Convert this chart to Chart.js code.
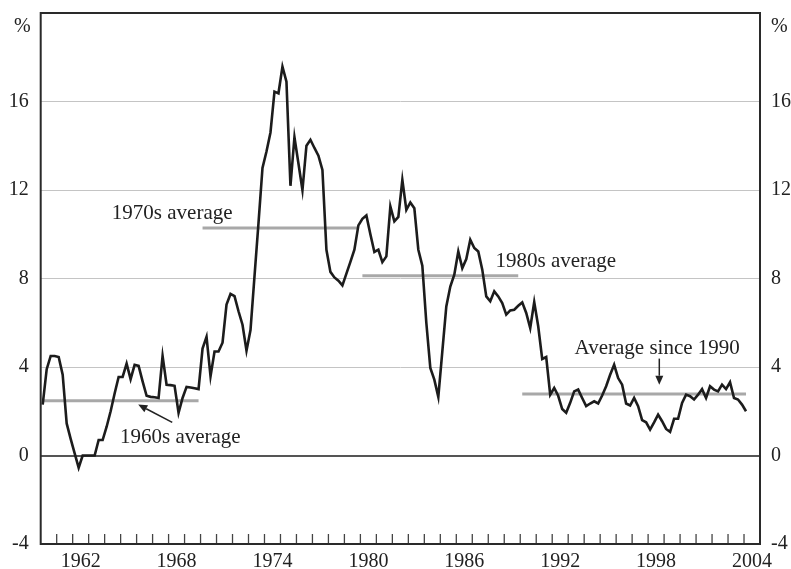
<!DOCTYPE html>
<html>
<head>
<meta charset="utf-8">
<script src="https://cdn.jsdelivr.net/npm/chart.js@4.4.1/dist/chart.umd.min.js"></script>
<style>
  html, body { margin: 0; padding: 0; background: #fff; overflow: hidden; }
  #wrap { width: 791px; height: 569px; position: relative; }
</style>
</head>
<body>
<div id="wrap"><canvas id="inflationChart"></canvas></div>
<script>
// quarterly year-ended inflation, Mar 1960 .. Mar 2004 (one row per year)
const firstQuarter = 1960.125;
const inflation = [
  2.3, 3.9, 4.5, 4.5,
  4.45, 3.65, 1.45, 0.75,
  0.1, -0.55, 0, 0,
  0, 0, 0.7, 0.7,
  1.3, 2.0, 2.8, 3.55,
  3.55, 4.15, 3.45, 4.1,
  4.05, 3.35, 2.7, 2.65,
  2.63, 2.6, 4.5, 3.2,
  3.18, 3.15, 1.93, 2.6,
  3.1, 3.07, 3.04, 3.0,
  4.83, 5.36, 3.58, 4.7,
  4.7, 5.1, 6.82, 7.3,
  7.2, 6.52, 5.91, 4.74,
  5.67, 8.1, 10.5, 13.0,
  13.74, 14.6, 16.45, 16.37,
  17.58, 16.9, 12.19, 14.39,
  13.2, 12.0, 14.0, 14.27,
  13.9, 13.55, 12.91, 9.3,
  8.3, 8.05, 7.9, 7.69,
  8.22, 8.75, 9.3, 10.4,
  10.7, 10.85, 10.0, 9.2,
  9.3, 8.74, 9.0, 11.26,
  10.58, 10.78, 12.46, 11.1,
  11.44, 11.18, 9.3, 8.58,
  6.0, 3.96, 3.43, 2.65,
  4.7, 6.74, 7.64, 8.17,
  9.22, 8.47, 8.88, 9.75,
  9.38, 9.22, 8.4, 7.19,
  6.97, 7.42, 7.19, 6.89,
  6.37, 6.56, 6.59, 6.77,
  6.92, 6.44, 5.76, 6.94,
  5.84, 4.36, 4.45, 2.75,
  3.05, 2.7, 2.1, 1.93,
  2.38, 2.9, 2.98, 2.6,
  2.23, 2.35, 2.45, 2.35,
  2.71, 3.13, 3.65, 4.1,
  3.5, 3.2, 2.35, 2.26,
  2.6, 2.23, 1.6, 1.5,
  1.17, 1.5, 1.85, 1.55,
  1.2, 1.07, 1.66, 1.66,
  2.38, 2.75, 2.68, 2.53,
  2.75, 3.0, 2.6, 3.13,
  2.98, 2.9, 3.2, 3.0,
  3.31, 2.6, 2.53, 2.3,
  2.0
];

const yearLabels = [1962, 1968, 1974, 1980, 1986, 1992, 1998, 2004];
const yTicks = [-4, 0, 4, 8, 12, 16];

const avgValues = [2.48, 10.28, 8.12, 2.78];
const avgStart = [1960.125, 1970.125, 1980.125, 1990.125];
const avgEnd = [1969.875, 1979.875, 1989.875, 2004.125];

const FONT = "'Liberation Serif', 'Times New Roman', serif";

const notes = [
  { text: "1970s average", x: 1964.45, y: 10.7 },
  { text: "1980s average", x: 1988.45, y: 8.53 },
  { text: "1960s average", x: 1964.96, y: 0.57 },
  { text: "Average since 1990", x: 1993.4, y: 4.6 }
];
const arrows = [
  { from: [1968.23, 1.5], to: [1966.1, 2.3] },
  { from: [1998.7, 4.38], to: [1998.7, 3.2] }
];

const points = inflation.map((v, i) => ({ x: firstQuarter + i * 0.25, y: v }));

const avgSets = avgValues.map((v, i) => ({
  data: [{ x: avgStart[i], y: v }, { x: avgEnd[i], y: v }],
  borderColor: "#a8a8a8",
  borderWidth: 3,
  pointRadius: 0
}));

const extras = {
  id: "extras",
  afterDatasetsDraw(chart) {
    const { ctx, chartArea: a, scales } = chart;
    const xs = scales.x, ys = scales.y;
    ctx.save();

    // small ticks pointing into the plot
    ctx.strokeStyle = "#444";
    ctx.lineWidth = 1.3;
    for (let yr = 1961; yr <= 2004; yr++) {
      const px = xs.getPixelForValue(yr);
      ctx.beginPath();
      ctx.moveTo(px, a.bottom);
      ctx.lineTo(px, a.bottom - 10);
      ctx.stroke();
    }

    // frame
    ctx.strokeStyle = "#2a2a2a";
    ctx.lineWidth = 2;
    ctx.strokeRect(a.left, a.top, a.right - a.left, a.bottom - a.top);

    ctx.fillStyle = "#222";
    ctx.font = "20px " + FONT;
    ctx.textBaseline = "middle";
    ctx.textAlign = "right";
    ctx.fillText("%", a.left - 10, a.top + 14);
    ctx.textAlign = "left";
    ctx.fillText("%", a.right + 11, a.top + 14);

    ctx.font = "21px " + FONT;
    ctx.textBaseline = "alphabetic";
    notes.forEach((n) => {
      ctx.fillText(n.text, xs.getPixelForValue(n.x), ys.getPixelForValue(n.y));
    });

    ctx.strokeStyle = "#222";
    ctx.lineWidth = 1.5;
    arrows.forEach((ar) => {
      const x1 = xs.getPixelForValue(ar.from[0]), y1 = ys.getPixelForValue(ar.from[1]);
      const x2 = xs.getPixelForValue(ar.to[0]), y2 = ys.getPixelForValue(ar.to[1]);
      const ang = Math.atan2(y2 - y1, x2 - x1);
      const len = 9, half = 4;
      const bx = x2 - len * Math.cos(ang), by = y2 - len * Math.sin(ang);
      ctx.beginPath();
      ctx.moveTo(x1, y1);
      ctx.lineTo(bx, by);
      ctx.stroke();
      ctx.beginPath();
      ctx.moveTo(x2, y2);
      ctx.lineTo(bx + half * Math.sin(ang), by - half * Math.cos(ang));
      ctx.lineTo(bx - half * Math.sin(ang), by + half * Math.cos(ang));
      ctx.closePath();
      ctx.fill();
    });

    ctx.restore();
  }
};

const tickFont = { family: FONT, size: 20, lineHeight: 1 };

// fixed axis sizes so the plot area lands where the original has it
function fixY(s) {
  s.width = 31.7;
  s.paddingTop = 0;
  s.paddingBottom = 0;
}

new Chart(document.getElementById("inflationChart"), {
  type: "line",
  data: {
    datasets: [
      {
        data: points,
        borderColor: "#1c1c1c",
        borderWidth: 2.6,
        pointRadius: 0,
        tension: 0
      },
      ...avgSets
    ]
  },
  options: {
    responsive: true,
    maintainAspectRatio: false,
    animation: false,
    layout: { padding: { left: 9, right: 0, top: 13, bottom: 1 } },
    plugins: { legend: { display: false }, tooltip: { enabled: false } },
    scales: {
      x: {
        type: "linear",
        min: 1960,
        max: 2005,
        afterBuildTicks: (s) => { s.ticks = yearLabels.map((v) => ({ value: v + 0.5 })); },
        afterFit: (s) => { s.height = 24; s.paddingLeft = 0; s.paddingRight = 0; },
        ticks: {
          autoSkip: false,
          maxRotation: 0,
          minRotation: 0,
          padding: 0,
          color: "#222",
          font: tickFont,
          callback: (v) => String(Math.floor(v))
        },
        grid: { display: false },
        border: { display: false }
      },
      y: {
        position: "left",
        min: -4,
        max: 20,
        afterBuildTicks: (s) => { s.ticks = yTicks.map((v) => ({ value: v })); },
        afterFit: fixY,
        ticks: { padding: 12, color: "#222", font: tickFont },
        grid: {
          drawTicks: false,
          color: (c) => c.tick.value === 0 ? "#555" : c.tick.value === -4 ? "rgba(0,0,0,0)" : "#c4c4c4",
          lineWidth: (c) => c.tick.value === 0 ? 2 : 1
        },
        border: { display: false }
      },
      y2: {
        position: "right",
        min: -4,
        max: 20,
        afterBuildTicks: (s) => { s.ticks = yTicks.map((v) => ({ value: v })); },
        afterFit: (s) => { s.width = 31; s.paddingTop = 0; s.paddingBottom = 0; },
        ticks: { padding: 11, color: "#222", font: tickFont },
        grid: { display: false, drawTicks: false },
        border: { display: false }
      }
    }
  },
  plugins: [extras]
});
</script>
</body>
</html>
